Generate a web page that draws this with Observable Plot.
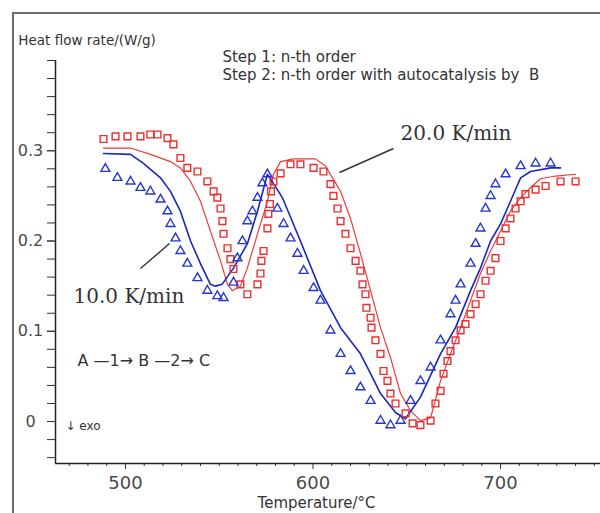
<!DOCTYPE html>
<html>
<head>
<meta charset="utf-8">
<script src="https://cdn.jsdelivr.net/npm/d3@7"></script>
<script src="https://cdn.jsdelivr.net/npm/@observablehq/plot@0.6"></script>
<style>
  body { margin: 0; background: #fff; }
  #wrap { position: relative; width: 600px; height: 513px; overflow: hidden; background: #fff; }
  #wrap svg { position: absolute; left: 0; top: 0; }
  #frame { position: absolute; left: 12px; top: 12px; width: 700px; height: 600px;
           border-left: 2px solid #6a6a6a; border-top: 2px solid #6a6a6a; pointer-events: none; }
</style>
</head>
<body>
<div id="wrap"></div>
<script>
// ---- Data: 10 K/min fit (blue line) ----
const blueFitT = [488.3, 502.7, 509.6, 518.7, 524, 529.3, 534.7, 540, 545.3, 548, 551.5, 557.6, 565, 570.4, 575.7, 583.7, 593.3, 604, 614.7, 625.3, 630.7, 636, 644, 649.3, 657.3, 668, 676, 684, 689.3, 694.7, 700, 705.3, 710.7, 716, 726.7, 732];
const blueFitH = [0.297, 0.296, 0.286, 0.270, 0.255, 0.233, 0.200, 0.175, 0.152, 0.150, 0.152, 0.170, 0.197, 0.233, 0.274, 0.248, 0.200, 0.145, 0.104, 0.075, 0.053, 0.031, 0.010, 0.003, 0.027, 0.075, 0.104, 0.145, 0.170, 0.200, 0.219, 0.244, 0.270, 0.277, 0.281, 0.281];

// ---- Data: 20 K/min fit (red line) ----
const redFitT = [488.3, 502.7, 513.3, 524, 529.3, 534.7, 540, 545.3, 550.7, 554.4, 557, 561.3, 565, 570.4, 575.7, 578.9, 582.7, 589.6, 601.3, 606.7, 614.7, 620, 625.3, 630.7, 636, 641.3, 646.7, 652, 657.3, 662.7, 668, 673.3, 678.7, 684, 689.3, 694.7, 700, 705.3, 710.7, 716, 721.3, 729.3, 740];
const redFitH = [0.303, 0.303, 0.296, 0.288, 0.281, 0.266, 0.244, 0.211, 0.178, 0.152, 0.145, 0.150, 0.170, 0.208, 0.244, 0.274, 0.288, 0.291, 0.291, 0.283, 0.255, 0.225, 0.186, 0.145, 0.104, 0.071, 0.031, 0.012, 0.001, 0.004, 0.045, 0.075, 0.104, 0.134, 0.164, 0.189, 0.211, 0.233, 0.248, 0.259, 0.269, 0.272, 0.274];

// ---- Data: 10 K/min measured (blue triangles) ----
const blueExpT = [489.3, 495.7, 502.7, 508, 513.3, 518.7, 522.4, 524, 526.7, 529.3, 533, 538.4, 543.7, 549, 552.3, 557.6, 559.7, 562.4, 565, 567.7, 570.4, 573, 575.7, 581, 584.3, 588, 591.7, 595, 600.3, 604, 609.3, 614.7, 620, 625.3, 630.7, 636, 641.3, 646.7, 652, 657.3, 662.7, 668, 673.3, 676, 678.7, 684, 686.7, 689.3, 692, 694.7, 697.3, 702.7, 710.7, 718.7, 726.7];
const blueExpH = [0.280, 0.270, 0.266, 0.259, 0.255, 0.246, 0.233, 0.219, 0.203, 0.189, 0.175, 0.159, 0.145, 0.139, 0.137, 0.154, 0.181, 0.200, 0.222, 0.233, 0.248, 0.264, 0.274, 0.236, 0.219, 0.203, 0.186, 0.167, 0.148, 0.134, 0.101, 0.075, 0.056, 0.038, 0.023, 0.001, -0.004, 0.001, 0.023, 0.045, 0.060, 0.090, 0.119, 0.134, 0.152, 0.175, 0.197, 0.214, 0.236, 0.250, 0.263, 0.274, 0.283, 0.286, 0.286];

// ---- Data: 20 K/min measured (red squares) ----
const redExpT = [488.3, 494.7, 501.1, 508, 513.3, 517.1, 522.4, 525.6, 529.3, 533, 538.4, 543.7, 547, 549, 550.7, 551.7, 552.3, 554.4, 556, 557.6, 561.3, 565, 570.4, 572, 572.5, 573.6, 575.7, 576.2, 577, 577.6, 578.9, 582.7, 588, 593.3, 600.3, 605.6, 609.3, 610.9, 613.1, 614.7, 617.3, 620, 622.7, 625.3, 626.4, 628, 628.5, 630.7, 631.2, 633.3, 636, 637.6, 639.7, 641.3, 644, 649.3, 653.1, 657.3, 662.7, 665.3, 668, 669.6, 671.7, 673.3, 676, 678.7, 681.3, 684, 686.7, 689.3, 692, 694.7, 697.3, 700, 702.7, 705.3, 708, 710.7, 713.3, 718.7, 724, 732, 740];
const redExpH = [0.313, 0.316, 0.316, 0.316, 0.318, 0.318, 0.314, 0.307, 0.292, 0.281, 0.277, 0.266, 0.255, 0.248, 0.236, 0.222, 0.208, 0.192, 0.180, 0.169, 0.152, 0.141, 0.152, 0.164, 0.178, 0.189, 0.214, 0.230, 0.241, 0.255, 0.266, 0.275, 0.285, 0.285, 0.281, 0.277, 0.263, 0.250, 0.236, 0.222, 0.208, 0.192, 0.178, 0.167, 0.152, 0.141, 0.126, 0.115, 0.104, 0.090, 0.075, 0.056, 0.045, 0.031, 0.020, 0.009, -0.002, -0.004, 0.001, 0.020, 0.034, 0.053, 0.067, 0.078, 0.090, 0.101, 0.108, 0.119, 0.130, 0.141, 0.156, 0.167, 0.181, 0.200, 0.214, 0.225, 0.236, 0.244, 0.252, 0.257, 0.261, 0.266, 0.266];

// ---- Axis ticks ----
const xMajorTicks = [500, 600, 700];
const xMinorTicks = d3.range(470, 751, 10).filter(v => v % 100 !== 0);
const yMajorTicks = [0, 0.1, 0.2, 0.3];
const yMinorTicks = d3.range(-4, 41, 2).map(v => v / 100);

// ---- Texts ----
const yTitle = "Heat flow rate/(W/g)";
const xTitle = "Temperature/°C";
const stepLines = ["Step 1: n-th order", "Step 2: n-th order with autocatalysis by  B"];
const rateLabels = ["20.0 K/min", "10.0 K/min"];
const schemeText = "A —1→ B —2→ C";
const exoText = "↓ exo";

// ---- Layout (annotation anchors in data units) ----
const xDomain = [462.7, 753.3];
const yDomain = [-0.0465, 0.4];
const table = (T, H) => T.map((t, i) => ({t, h: H[i]}));
const blueFit = table(blueFitT, blueFitH);
const redFit = table(redFitT, redFitH);
const blueExp = table(blueExpT, blueExpH);
const redExp = table(redExpT, redExpH);

const startNotes = [
  {t: 442.9, h: 0.4222, text: yTitle, size: 13.5},
  {t: 551.7, h: 0.4038, text: stepLines[0], size: 15},
  {t: 551.7, h: 0.3834, text: stepLines[1], size: 15},
  {t: 474.4, h: 0.0676, text: schemeText, size: 16}
];
const middleNotes = [
  {t: 601.9, h: -0.0909, text: xTitle, size: 15}
];
const serifNotes = [
  {t: 646.7, h: 0.3191, text: rateLabels[0]},
  {t: 472.3, h: 0.1385, text: rateLabels[1]}
];
const leaders = [
  {t1: 614.1, h1: 0.2759, t2: 642.9, h2: 0.3025},
  {t1: 508.0, h1: 0.1695, t2: 523.5, h2: 0.1972}
];
const exoNote = [{t: 468.0, h: -0.0055, text: exoText}];

const blue = "#2436d4", blueLine = "#1a26c2", red = "#ec2f2f", redLine = "#f03a3a";

const chart = Plot.plot({
  width: 600, height: 513,
  marginLeft: 55, marginRight: 0, marginTop: 60, marginBottom: 50,
  x: {domain: xDomain},
  y: {domain: yDomain},
  style: {fontFamily: "DejaVu Sans, sans-serif", background: "transparent", overflow: "visible"},
  marks: [
    Plot.axisY(yMinorTicks, {tickSize: 8, tickFormat: () => "", stroke: "#333", label: null}),
    Plot.axisY(yMajorTicks, {tickSize: 8, tickPadding: 17, textAnchor: "middle", fontSize: 16,
      fill: "#4a4a4a", stroke: "#333", tickFormat: d => String(d), label: null}),
    Plot.axisX(xMinorTicks, {tickSize: 3, tickFormat: () => "", stroke: "#333", label: null}),
    Plot.axisX(xMajorTicks, {tickSize: 6, tickPadding: 7, fontSize: 18,
      fill: "#4a4a4a", stroke: "#333", label: null}),
    Plot.ruleX([xDomain[0]], {stroke: "#222", strokeWidth: 1.5}),
    Plot.ruleY([yDomain[0]], {stroke: "#222", strokeWidth: 1.5}),
    Plot.line(redFit, {x: "t", y: "h", stroke: redLine, strokeWidth: 1.2}),
    Plot.line(blueFit, {x: "t", y: "h", stroke: blueLine, strokeWidth: 1.6}),
    Plot.dot(redExp, {x: "t", y: "h", symbol: "square", r: 3.8, stroke: red, strokeWidth: 1.4, fill: "none"}),
    Plot.dot(blueExp, {x: "t", y: "h", symbol: "triangle", r: 3.3, stroke: blue, strokeWidth: 1.4, fill: "none"}),
    Plot.link(leaders, {x1: "t1", y1: "h1", x2: "t2", y2: "h2", stroke: "#333", strokeWidth: 1.4}),
    Plot.text(startNotes, {x: "t", y: "h", text: "text", fontSize: "size", textAnchor: "start",
      lineAnchor: "middle", fill: "#333"}),
    Plot.text(middleNotes, {x: "t", y: "h", text: "text", fontSize: "size", textAnchor: "middle",
      lineAnchor: "middle", fill: "#333"}),
    Plot.text(serifNotes, {x: "t", y: "h", text: "text", fontSize: 20, textAnchor: "start",
      lineAnchor: "middle", fill: "#333", fontFamily: "DejaVu Serif"}),
    Plot.text(exoNote, {x: "t", y: "h", text: "text", fontSize: 12, textAnchor: "start",
      lineAnchor: "middle", fill: "#333"})
  ]
});

const wrap = document.getElementById("wrap");
wrap.appendChild(chart);
const frame = document.createElement("div");
frame.id = "frame";
wrap.appendChild(frame);
</script>
</body>
</html>
